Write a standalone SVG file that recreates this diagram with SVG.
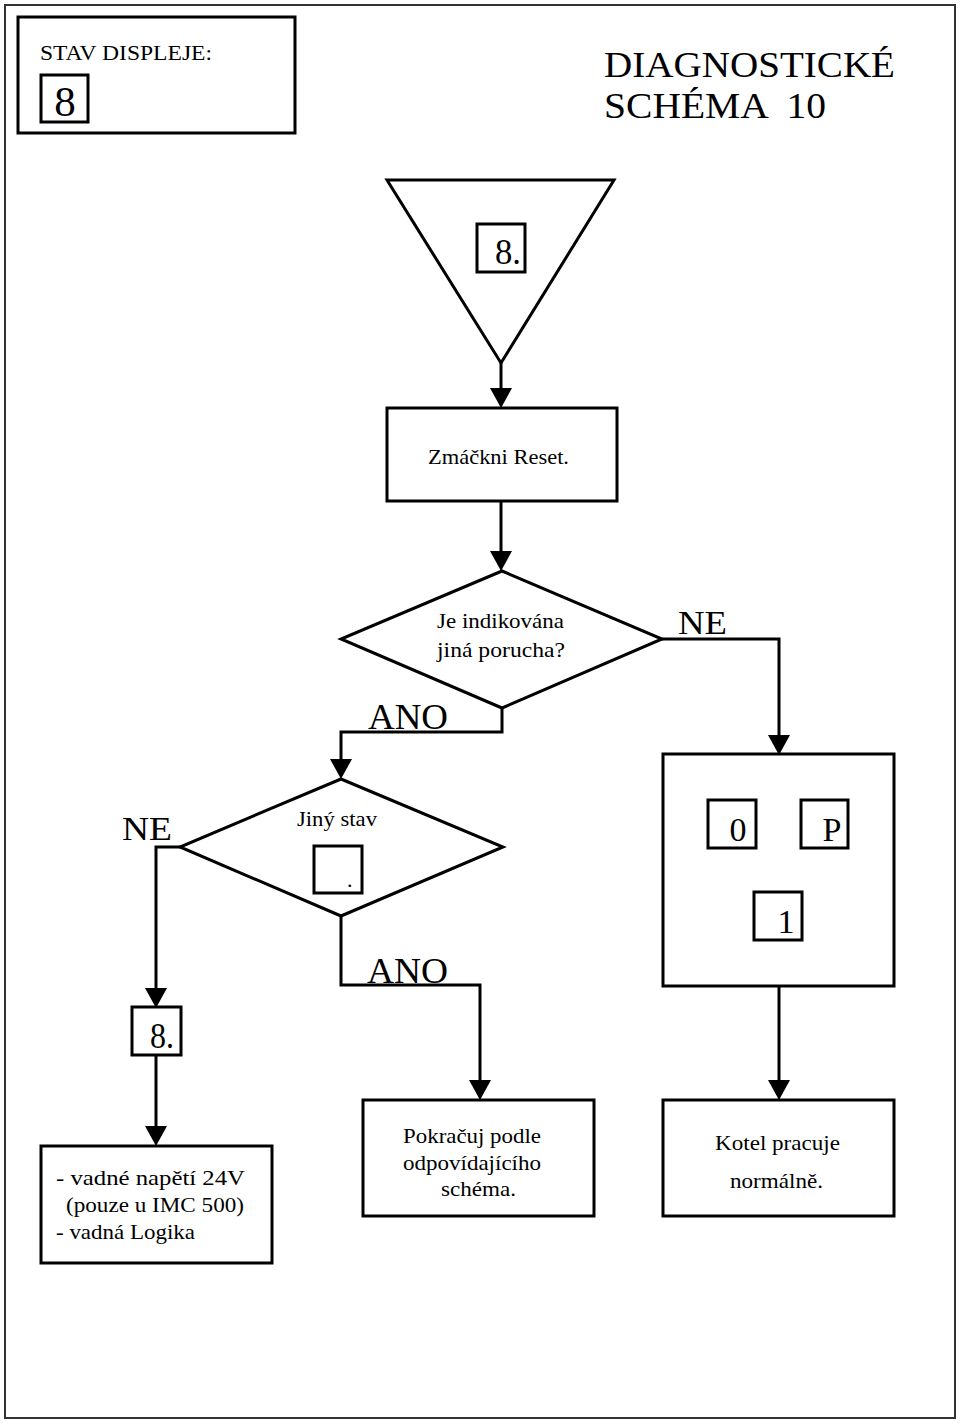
<svg xmlns="http://www.w3.org/2000/svg" width="960" height="1424" viewBox="0 0 960 1424">
<style>
.box{fill:#fff;stroke:#000;stroke-width:3}
.conn{fill:none;stroke:#000;stroke-width:3}
.t{font-family:"Liberation Serif","Times New Roman",serif;fill:#000}
</style>
<defs>
<marker id="arr" markerUnits="userSpaceOnUse" viewBox="0 0 20 22" refX="16" refY="11" markerWidth="20" markerHeight="22" orient="auto">
<path d="M0,0 L20,11 L0,22 Z" fill="#000"/>
</marker>
</defs>
<rect x="0" y="0" width="960" height="1424" fill="#fff"/>
<rect x="5" y="5" width="950" height="1413" fill="none" stroke="#333" stroke-width="2"/>

<g id="header">
<rect class="box" x="18" y="17" width="277" height="116" stroke-width="4"/>
<text class="t" x="40" y="60" font-size="21" textLength="172" lengthAdjust="spacingAndGlyphs">STAV DISPLEJE:</text>
<rect class="box" x="41" y="75" width="47" height="47"/>
<text class="t" x="65" y="116" font-size="43" text-anchor="middle">8</text>
</g>
<g id="title">
<text class="t" x="604" y="77" font-size="36" textLength="291" lengthAdjust="spacingAndGlyphs">DIAGNOSTICKÉ</text>
<text class="t" x="604" y="118" font-size="36" xml:space="preserve" textLength="222" lengthAdjust="spacingAndGlyphs">SCHÉMA  10</text>
</g>

<g id="connectors">
<path class="conn" d="M501,363 V404" marker-end="url(#arr)"/>
<path class="conn" d="M501,501 V567" marker-end="url(#arr)"/>
<path class="conn" d="M502,708 V732 H341 V775" marker-end="url(#arr)"/>
<path class="conn" d="M662,639 H779 V751" marker-end="url(#arr)"/>
<path class="conn" d="M180,847 H156 V1004" marker-end="url(#arr)"/>
<path class="conn" d="M341,916 V985 H480 V1096" marker-end="url(#arr)"/>
<path class="conn" d="M156,1055 V1142" marker-end="url(#arr)"/>
<path class="conn" d="M779,986 V1096" marker-end="url(#arr)"/>
</g>

<g id="start">
<polygon class="box" points="387,180 614,180 501,363"/>
<rect class="box" x="477" y="224" width="48" height="48"/>
<text class="t" x="495" y="264" font-size="36" textLength="26" lengthAdjust="spacingAndGlyphs">8.</text>
</g>

<g id="reset">
<rect class="box" x="387" y="408" width="230" height="93"/>
<text class="t" x="428" y="464" font-size="22" textLength="141" lengthAdjust="spacingAndGlyphs">Zmáčkni Reset.</text>
</g>

<g id="decision1">
<polygon class="box" points="502,571 662,639 502,708 341,639"/>
<text class="t" x="437" y="628" font-size="22" textLength="127" lengthAdjust="spacingAndGlyphs">Je indikována</text>
<text class="t" x="437" y="657" font-size="22" textLength="128" lengthAdjust="spacingAndGlyphs">jiná porucha?</text>
</g>
<g id="label-ne1">
<text class="t" x="678" y="634" font-size="33" textLength="49" lengthAdjust="spacingAndGlyphs">NE</text>
</g>
<g id="label-ano1">
<text class="t" x="368" y="729" font-size="35" textLength="80" lengthAdjust="spacingAndGlyphs">ANO</text>
</g>

<g id="decision2">
<polygon class="box" points="341,779 503,847 341,916 180,847"/>
<text class="t" x="297" y="826" font-size="22" textLength="80" lengthAdjust="spacingAndGlyphs">Jiný stav</text>
<rect class="box" x="314" y="846" width="48" height="47"/>
<text class="t" x="347" y="887" font-size="22">.</text>
</g>
<g id="label-ne2">
<text class="t" x="122" y="840" font-size="33" textLength="50" lengthAdjust="spacingAndGlyphs">NE</text>
</g>
<g id="label-ano2">
<text class="t" x="367" y="983" font-size="35" textLength="81" lengthAdjust="spacingAndGlyphs">ANO</text>
</g>

<g id="display">
<rect class="box" x="663" y="754" width="231" height="232"/>
<rect class="box" x="708" y="800" width="48" height="48"/>
<text class="t" x="738" y="841" font-size="34" text-anchor="middle">0</text>
<rect class="box" x="801" y="800" width="47" height="48"/>
<text class="t" x="832" y="841" font-size="34" text-anchor="middle">P</text>
<rect class="box" x="754" y="892" width="48" height="48"/>
<text class="t" x="786" y="933" font-size="34" text-anchor="middle">1</text>
</g>

<g id="code8">
<rect class="box" x="132" y="1007" width="49" height="48"/>
<text class="t" x="150" y="1048" font-size="36" textLength="24" lengthAdjust="spacingAndGlyphs">8.</text>
</g>

<g id="fault">
<rect class="box" x="41" y="1146" width="231" height="117"/>
<text class="t" x="56" y="1185" font-size="22" textLength="189" lengthAdjust="spacingAndGlyphs">- vadné napětí 24V</text>
<text class="t" x="66" y="1212" font-size="22" textLength="178" lengthAdjust="spacingAndGlyphs">(pouze u IMC 500)</text>
<text class="t" x="56" y="1239" font-size="22" textLength="139" lengthAdjust="spacingAndGlyphs">- vadná Logika</text>
</g>

<g id="continue">
<rect class="box" x="363" y="1100" width="231" height="116"/>
<text class="t" x="403" y="1143" font-size="22" textLength="138" lengthAdjust="spacingAndGlyphs">Pokračuj podle</text>
<text class="t" x="403" y="1170" font-size="22" textLength="138" lengthAdjust="spacingAndGlyphs">odpovídajícího</text>
<text class="t" x="441" y="1196" font-size="22" textLength="75" lengthAdjust="spacingAndGlyphs">schéma.</text>
</g>

<g id="ok">
<rect class="box" x="663" y="1100" width="231" height="116"/>
<text class="t" x="715" y="1150" font-size="22" textLength="125" lengthAdjust="spacingAndGlyphs">Kotel pracuje</text>
<text class="t" x="730" y="1188" font-size="22" textLength="93" lengthAdjust="spacingAndGlyphs">normálně.</text>
</g>
</svg>
